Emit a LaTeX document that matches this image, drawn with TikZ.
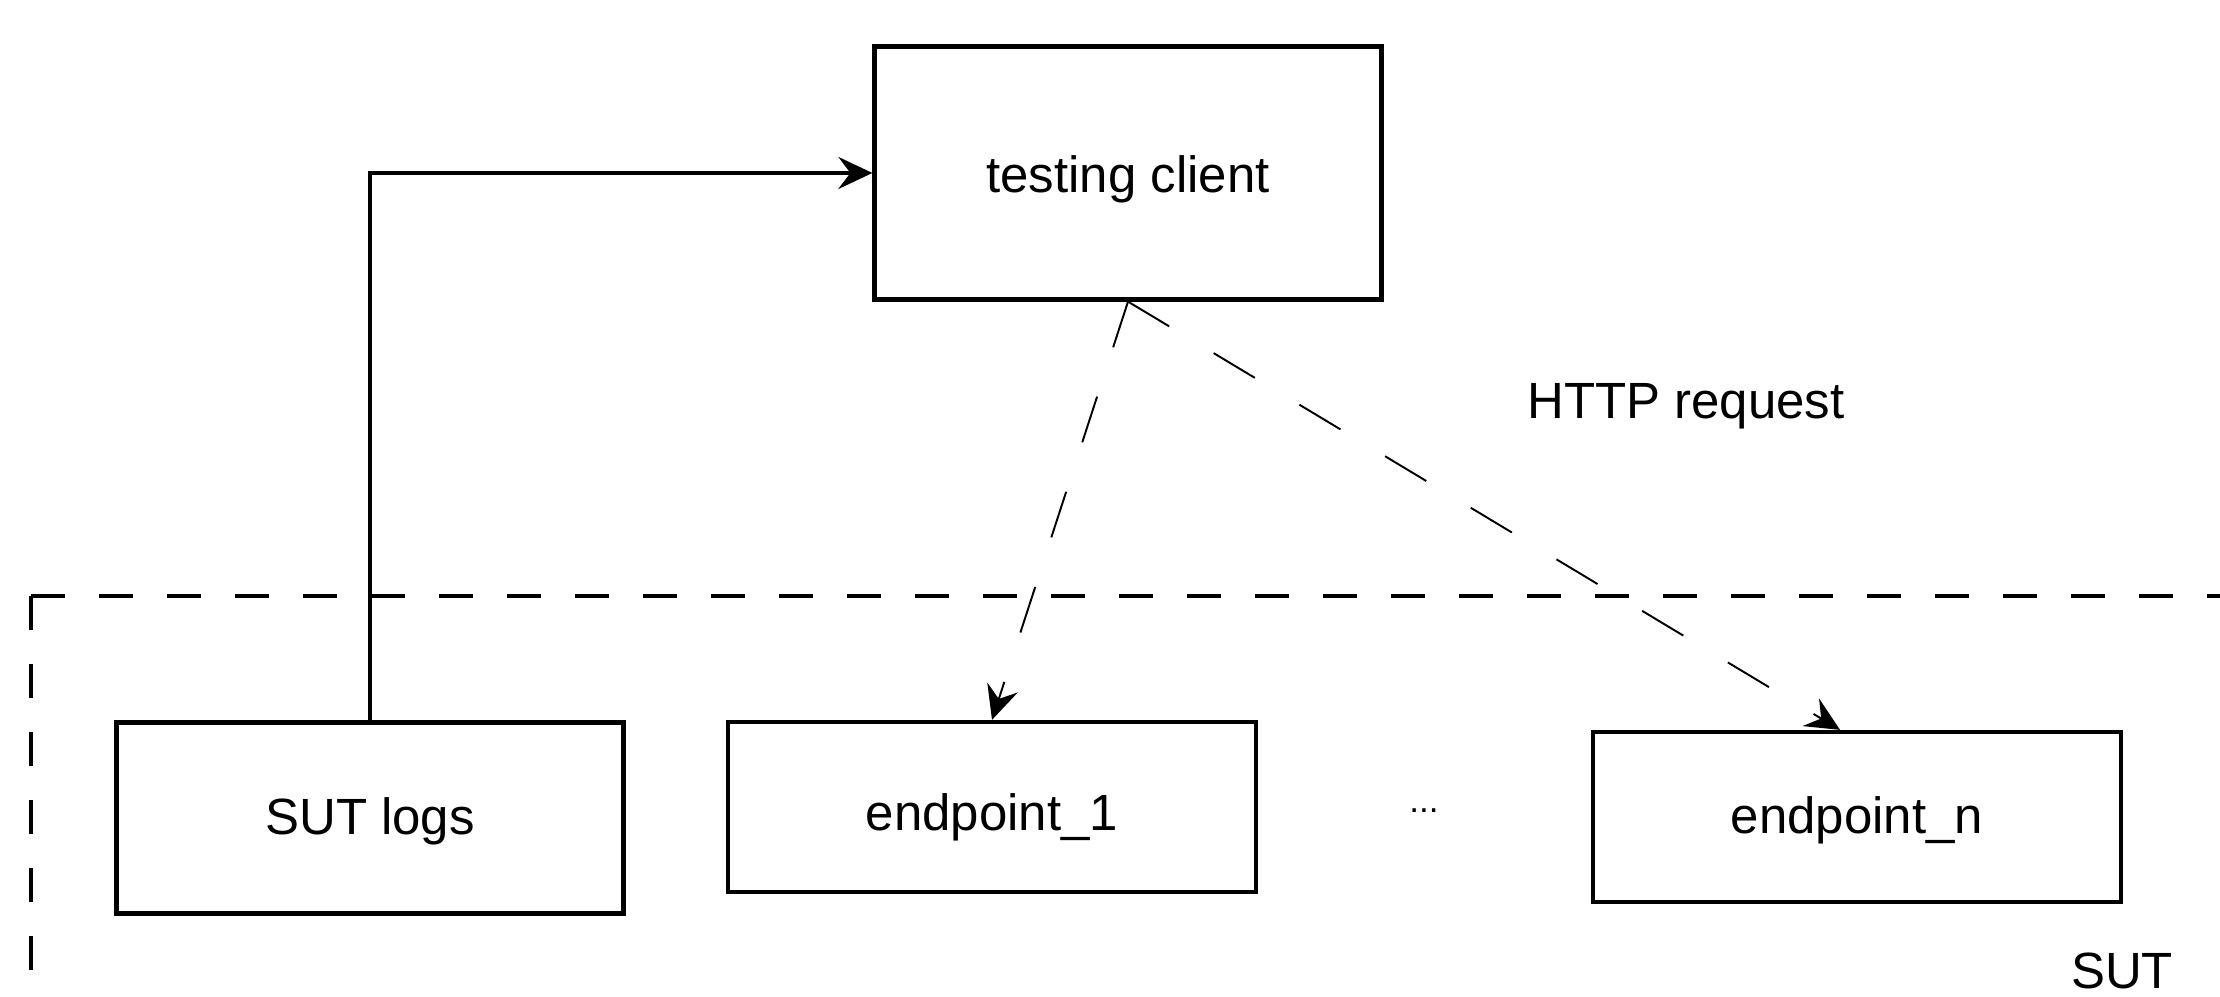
\documentclass[tikz,border=0pt]{standalone}
\usepackage{fontspec}
\setmainfont{Liberation Sans}
\usetikzlibrary{positioning, arrows.meta}

\begin{document}
\begin{tikzpicture}[
      font=\fontsize{14.5}{17}\selectfont,
      box/.style={rectangle, draw, line width=1.2pt, minimum width=5.07cm},
      line/.style={draw, -{Stealth[length=3.4mm, width=3.2mm, inset=1.2mm]}, line width=1.1pt},
      httpline/.style={draw, -{Stealth[length=3.4mm, width=3.2mm, inset=1.2mm]},
      line width=0.55pt, dash pattern=on 0.48cm off 0.52cm},
      sutline/.style={draw, line width=1.1pt, dash pattern=on 0.34cm off 0.34cm}
    ]
    \useasboundingbox (0,0) rectangle (22.2,9.97);

    \node [box, minimum height=2.53cm, text height=0.49cm] (client) at (11.28,8.24) {testing client};
    \node [box, minimum height=1.91cm, text height=0.43cm] (logs) at (3.70,1.79) {SUT logs};
    \node [box, minimum width=5.28cm, minimum height=1.70cm, text height=0.57cm] (ep1) at (9.92,1.90) {endpoint\_1};
    \node [box, minimum width=5.28cm, minimum height=1.70cm, text height=0.43cm] (epn) at (18.57,1.80) {endpoint\_n};
    \node [font=\fontsize{10}{12}\selectfont] (dots) at (14.24,1.86) {...};
    \node (http) at (16.86,5.91) {HTTP request};
    \node [anchor=base] (sutlabel) at (21.22,0.08) {SUT};

    % SUT boundary
    \coordinate (sut) at (0.31,4.01);
    \path [sutline] (sut) -- (0.31,0);
    \path [sutline] (sut) -- (22.2,4.01);

    \path [line] (logs.north) |- (client.west);
    \path [httpline] (client.south) -- (ep1.north);
    \path [httpline] (client.south) -- ([xshift=-0.17cm]epn.north);
  \end{tikzpicture}
\end{document}
